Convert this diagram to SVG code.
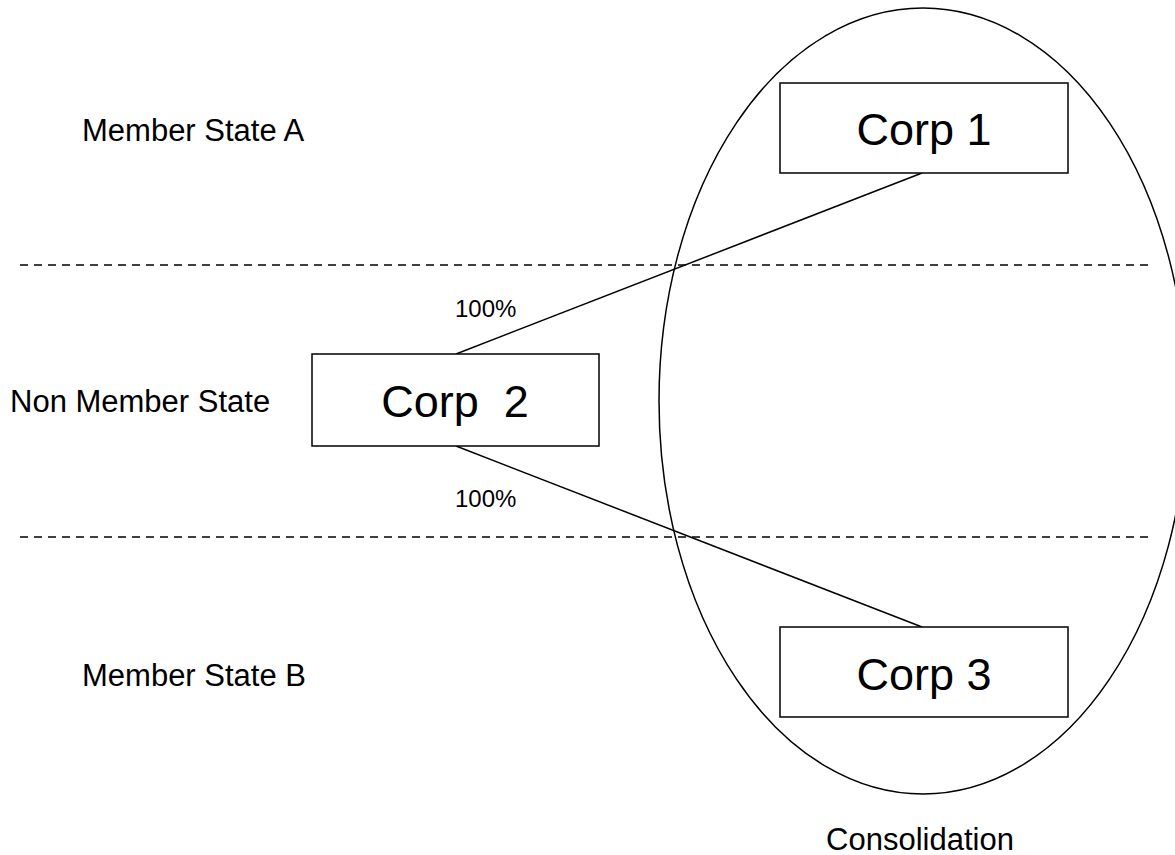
<svg xmlns="http://www.w3.org/2000/svg" width="1175" height="855" viewBox="0 0 1175 855">
<style>
.t{font-family:"Liberation Sans",Arial,sans-serif;fill:#000}
.lbl{font-size:31px}
.pct{font-size:24px}
.corp{font-size:45px;text-anchor:middle}
.box{fill:#fff;stroke:#000;stroke-width:1.5}
.ln{stroke:#000;stroke-width:1.5;fill:none}
.dash{stroke:#000;stroke-width:1.5;stroke-dasharray:8 6;fill:none}
</style>
<rect width="1175" height="855" fill="#fff"/>
<g id="boundaries">
<line class="dash" x1="20" y1="265" x2="1148" y2="265"/>
<line class="dash" x1="20" y1="537" x2="1148" y2="537"/>
</g>
<g id="consolidation">
<ellipse class="ln" cx="923" cy="401" rx="264" ry="393"/>
<text class="t lbl" x="920" y="850" text-anchor="middle">Consolidation</text>
</g>
<g id="regions">
<text class="t lbl" x="82" y="141">Member State A</text>
<text class="t lbl" x="10" y="412">Non Member State</text>
<text class="t lbl" x="82" y="686">Member State B</text>
</g>
<g id="connectors">
<line class="ln" x1="456" y1="354" x2="922" y2="173"/>
<line class="ln" x1="456" y1="446" x2="922" y2="627"/>
<text class="t pct" x="455" y="317">100%</text>
<text class="t pct" x="455" y="507">100%</text>
</g>
<g id="corp1">
<rect class="box" x="780" y="83" width="288" height="90"/>
<text class="t corp" x="924" y="145">Corp 1</text>
</g>
<g id="corp2">
<rect class="box" x="312" y="354" width="287" height="92"/>
<text class="t corp" x="455" y="417" xml:space="preserve" style="white-space:pre">Corp  2</text>
</g>
<g id="corp3">
<rect class="box" x="780" y="627" width="288" height="90"/>
<text class="t corp" x="924" y="690">Corp 3</text>
</g>
</svg>
